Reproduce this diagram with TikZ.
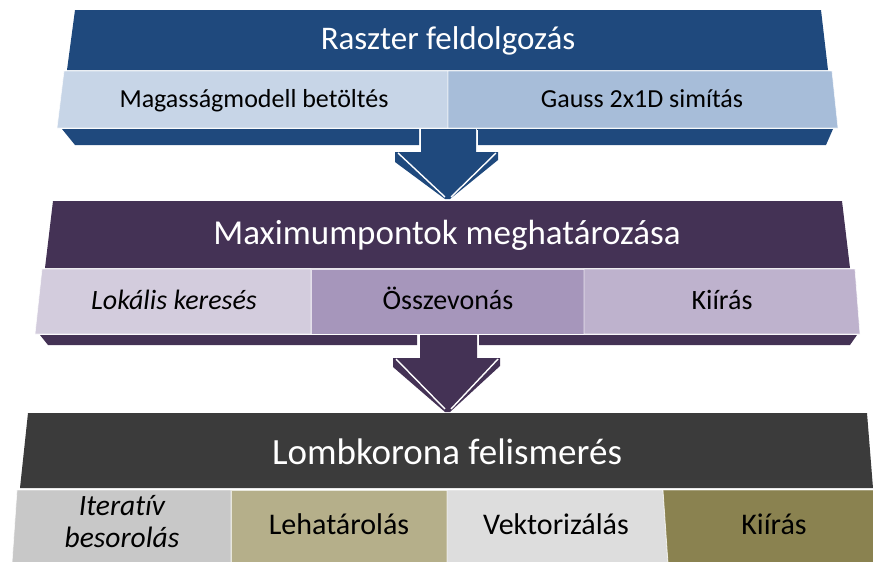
\documentclass[tikz,border=0pt]{standalone}
\usepackage{fontspec}
\setmainfont[Ligatures=NoCommon]{Carlito}
\definecolor{blueD}{RGB}{31,73,125}
\definecolor{blueA}{RGB}{199,213,231}
\definecolor{blueB}{RGB}{167,189,217}
\definecolor{purD}{RGB}{68,50,85}
\definecolor{purA}{RGB}{211,204,221}
\definecolor{purB}{RGB}{166,150,187}
\definecolor{purC}{RGB}{190,178,205}
\definecolor{grayD}{RGB}{59,59,59}
\definecolor{grA}{RGB}{200,200,200}
\definecolor{grB}{RGB}{181,175,138}
\definecolor{grC}{RGB}{221,221,221}
\definecolor{grD}{RGB}{138,130,80}
\tikzset{
  ttl/.style={text=white, inner sep=0pt, anchor=base},
  sub/.style={text=black, inner sep=0pt, anchor=base},
  subbox/.style={draw=white, draw opacity=0.7, line width=0.8pt},
  bevel/.style={white, line width=1.4pt},
}
\begin{document}
\begin{tikzpicture}[x=1pt,y=-1pt]
\useasboundingbox (0,0) rectangle (873,562);
% ===== Top banner =====
\fill[blueD] (75,10) -- (821,10) -- (828,70) -- (67,70) -- cycle;
\fill[blueD] (62,129) -- (419,129) -- (419,145) -- (75,145) -- cycle;
\fill[blueD] (477,129) -- (833,129) -- (826,145) -- (477,145) -- cycle;
\filldraw[subbox, fill=blueA] (64,71) -- (448,71) -- (448,128) -- (57,128) -- cycle;
\filldraw[subbox, fill=blueB] (448,71) -- (832,71) -- (838,128) -- (448,128) -- cycle;
\node[ttl, font=\fontsize{33}{35}\selectfont] (t1) at (448,49) {Raszter feldolgozás};
\node[sub, font=\fontsize{26}{28}\selectfont] (s11) at (254,107) {Magasságmodell betöltés};
\node[sub, font=\fontsize{26}{28}\selectfont] (s12) at (642,107) {Gauss 2x1D simítás};
% arrow 1
\fill[blueD] (421,129) -- (476,129) -- (476,152) -- (498,152) -- (498,160) -- (450,199) -- (445,199) -- (395,162) -- (395,152) -- (421,152) -- cycle;
\draw[bevel] (398,153) -- (445,197);
\draw[bevel] (496,153) -- (451,197);
\draw[white, line width=1pt] (420,130) -- (420,152) (477,130) -- (477,152);
% ===== Middle banner =====
\fill[purD] (53,201) -- (842,201) -- (850,268) -- (45,268) -- cycle;
\fill[purD] (40,335) -- (417,335) -- (417,345) -- (48,345) -- cycle;
\fill[purD] (479,335) -- (857,335) -- (850,345) -- (479,345) -- cycle;
\filldraw[subbox, fill=purA] (42,269) -- (311,269) -- (311,334) -- (35,334) -- cycle;
\filldraw[subbox, fill=purB] (311,269) -- (584,269) -- (584,334) -- (311,334) -- cycle;
\filldraw[subbox, fill=purC] (584,269) -- (855,269) -- (860,334) -- (584,334) -- cycle;
\node[ttl, font=\fontsize{35}{37}\selectfont] (t2) at (447,244) {Maximumpontok meghatározása};
\node[sub, font=\fontsize{28}{30}\selectfont\itshape] (s21) at (174,309) {Lokális keresés};
\node[sub, font=\fontsize{28}{30}\selectfont] (s22) at (448,309) {Összevonás};
\node[sub, font=\fontsize{28}{30}\selectfont] (s23) at (722,309) {Kiírás};
% arrow 2
\fill[purD] (420,335) -- (477,335) -- (477,358) -- (500,358) -- (500,366) -- (450,412) -- (445,412) -- (393,367) -- (393,358) -- (420,358) -- cycle;
\draw[bevel] (396,359) -- (445,409);
\draw[bevel] (498,359) -- (451,409);
\draw[white, line width=1pt] (419,336) -- (419,358) (478,336) -- (478,358);
% ===== Bottom banner =====
\fill[grayD] (28,413) -- (867,413) -- (873,488) -- (20,488) -- cycle;
\filldraw[subbox, fill=grA] (17,490) -- (231,490) -- (231,563) -- (12,563) -- cycle;
\filldraw[subbox, fill=grB] (231,490) -- (447,490) -- (447,563) -- (231,563) -- cycle;
\filldraw[subbox, fill=grC] (447,490) -- (663,490) -- (668,563) -- (447,563) -- cycle;
\filldraw[subbox, fill=grD] (663,490) -- (874,490) -- (874,563) -- (668,563) -- cycle;
\node[ttl, font=\fontsize{37}{39}\selectfont] (t3) at (447,464) {Lombkorona felismerés};
\node[sub, font=\fontsize{29.5}{31}\selectfont\itshape] (s31a) at (122,515) {Iteratív};
\node[sub, font=\fontsize{29.5}{31}\selectfont\itshape] (s31b) at (122,547) {besorolás};
\node[sub, font=\fontsize{30}{32}\selectfont] (s32) at (339,534) {Lehatárolás};
\node[sub, font=\fontsize{30}{32}\selectfont] (s33) at (556,534) {Vektorizálás};
\node[sub, font=\fontsize{30}{32}\selectfont] (s34) at (774,534) {Kiírás};
\end{tikzpicture}
\end{document}
